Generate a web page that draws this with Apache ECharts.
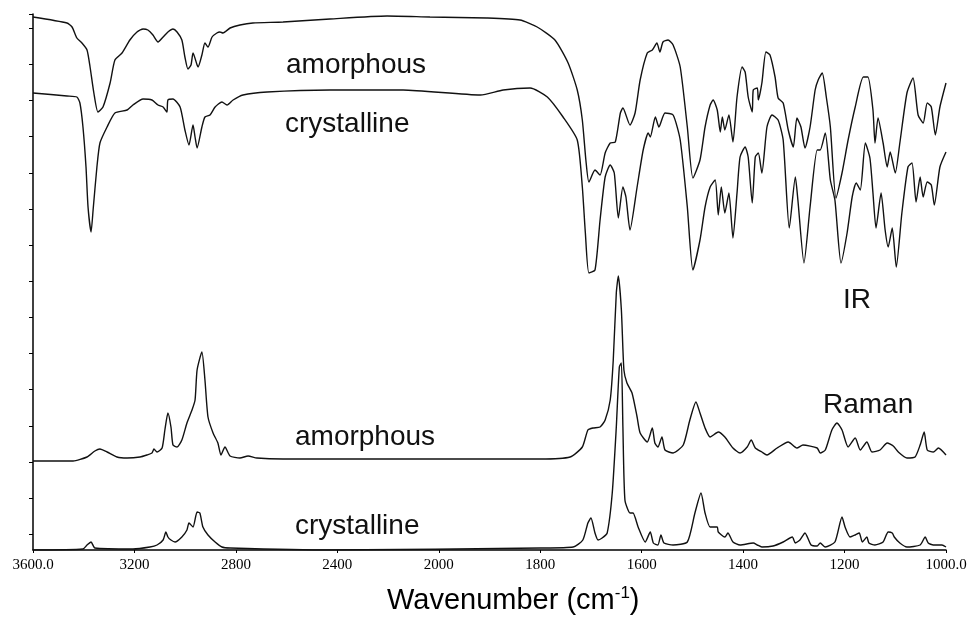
<!DOCTYPE html>
<html>
<head>
<meta charset="utf-8">
<style>html,body{margin:0;padding:0;background:#fff}#c{width:970px;height:617px}</style>
<script src="https://cdn.jsdelivr.net/npm/echarts@6/dist/echarts.min.js"></script>
</head>
<body>
<div id="c"></div>
<script>
// Wavenumber axis ticks (scale changes at 2000 cm-1)
const xTickValues = [3600, 3200, 2800, 2400, 2000, 1800, 1600, 1400, 1200, 1000];
const xTickLabels = ['3600.0', '3200', '2800', '2400', '2000', '1800', '1600', '1400', '1200', '1000.0'];
const yTickValues = [16, 52, 88, 124, 161, 197, 233, 269, 305, 341, 377, 414, 450, 486, 522, 536];

// [wavenumber, intensity (arbitrary, stacked offsets)]
const irAmorphous = [[3600,533],[3466,527],[3446,523],[3427,512],[3407,507],[3387,500],[3375,483],[3360,457],[3344,438],[3324,443],[3296,467],[3277,490],[3249,497],[3218,510],[3190,518],[3166,521],[3147,520],[3127,515],[3107,508],[3087,513],[3068,518],[3048,521],[3032,518],[3013,510],[3001,493],[2989,481],[2977,485],[2969,497],[2953,485],[2949,483],[2934,495],[2922,507],[2910,503],[2894,513],[2875,517],[2863,518],[2851,517],[2823,522],[2784,525],[2733,527],[2614,528],[2429,531],[2204,534],[2035,533],[1905,532],[1840,530],[1806,523],[1771,510],[1745,487],[1727,460],[1717,430],[1710,390],[1704,368],[1692,380],[1682,375],[1672,397],[1662,407],[1652,408],[1642,437],[1637,442],[1623,425],[1613,437],[1603,470],[1589,497],[1579,500],[1570,507],[1564,498],[1558,508],[1548,510],[1538,505],[1524,483],[1510,423],[1499,372],[1485,390],[1475,423],[1465,445],[1459,450],[1451,440],[1445,418],[1441,433],[1436,420],[1428,435],[1420,408],[1412,453],[1402,483],[1396,478],[1390,453],[1382,438],[1380,460],[1372,462],[1370,450],[1363,467],[1355,498],[1347,495],[1337,473],[1331,452],[1321,447],[1311,420],[1301,403],[1294,432],[1286,423],[1278,402],[1268,423],[1258,460],[1252,470],[1244,477],[1236,453],[1228,423],[1217,352],[1205,377],[1193,410],[1179,443],[1163,473],[1154,473],[1144,440],[1140,407],[1134,432],[1124,407],[1116,383],[1110,398],[1100,377],[1091,407],[1077,457],[1065,472],[1055,435],[1045,427],[1037,447],[1029,443],[1021,415],[1012,443],[1000,467]];

const irCrystalline = [[3600,457],[3466,454],[3427,453],[3415,447],[3403,423],[3391,383],[3383,343],[3371,318],[3363,340],[3348,383],[3336,407],[3308,423],[3277,437],[3229,440],[3206,445],[3166,451],[3131,450],[3107,445],[3087,443],[3072,438],[3068,450],[3048,451],[3020,443],[3001,420],[2985,405],[2969,425],[2961,413],[2953,402],[2934,423],[2922,433],[2902,435],[2882,443],[2855,448],[2835,445],[2811,450],[2772,455],[2677,458],[2429,460],[2141,460],[1918,455],[1873,460],[1820,462],[1786,453],[1755,433],[1727,410],[1717,363],[1711,317],[1704,277],[1692,280],[1682,330],[1672,373],[1662,385],[1654,377],[1646,332],[1637,363],[1631,353],[1623,320],[1609,363],[1597,400],[1587,417],[1583,413],[1573,433],[1566,423],[1554,437],[1538,435],[1524,410],[1510,343],[1499,280],[1485,310],[1475,343],[1465,363],[1455,370],[1449,335],[1443,363],[1436,337],[1428,357],[1420,312],[1412,357],[1406,393],[1396,403],[1390,393],[1382,347],[1376,393],[1370,397],[1363,377],[1353,423],[1343,435],[1331,430],[1321,410],[1309,322],[1297,373],[1292,350],[1280,287],[1268,343],[1254,400],[1248,400],[1238,417],[1228,370],[1219,350],[1207,287],[1195,317],[1185,353],[1177,367],[1169,360],[1159,407],[1150,392],[1144,357],[1138,322],[1128,357],[1120,320],[1114,303],[1106,322],[1098,283],[1087,337],[1075,383],[1067,387],[1059,348],[1051,373],[1045,353],[1037,368],[1029,365],[1023,345],[1012,383],[1000,398]];

const ramanAmorphous = [[3600,89],[3442,89],[3387,93],[3356,99],[3336,101],[3308,98],[3269,93],[3229,92],[3178,93],[3151,95],[3131,97],[3123,101],[3111,98],[3091,102],[3080,120],[3068,137],[3056,123],[3048,105],[3032,103],[3013,110],[2993,127],[2973,140],[2961,150],[2953,180],[2934,198],[2922,170],[2910,133],[2890,117],[2871,107],[2859,95],[2843,103],[2823,94],[2784,92],[2752,94],[2717,92],[2614,91],[2429,91],[1800,91],[1741,93],[1717,103],[1706,120],[1696,122],[1682,123],[1672,130],[1662,150],[1656,190],[1650,257],[1646,274],[1640,240],[1635,180],[1629,167],[1619,157],[1609,133],[1603,117],[1589,108],[1579,122],[1574,107],[1568,103],[1560,113],[1554,100],[1538,97],[1518,105],[1505,130],[1493,148],[1485,137],[1475,122],[1465,113],[1449,118],[1436,113],[1420,102],[1406,97],[1392,103],[1384,110],[1376,102],[1363,98],[1353,95],[1333,102],[1311,108],[1294,102],[1282,105],[1254,102],[1248,97],[1238,100],[1225,120],[1215,127],[1205,120],[1193,103],[1179,112],[1169,100],[1156,108],[1146,98],[1130,100],[1116,107],[1104,104],[1094,98],[1077,92],[1061,93],[1051,105],[1043,118],[1037,100],[1025,98],[1015,102],[1000,95]];

const ramanCrystalline = [[3600,0],[3403,1],[3387,5],[3371,8],[3356,2],[3206,1],[3139,3],[3111,5],[3087,10],[3076,18],[3068,13],[3056,10],[3040,8],[3013,13],[2993,20],[2985,27],[2969,23],[2953,38],[2942,37],[2930,23],[2910,15],[2882,8],[2855,3],[2823,2],[2429,0],[1800,2],[1735,3],[1716,10],[1706,27],[1700,32],[1692,17],[1686,10],[1678,12],[1668,17],[1658,57],[1650,123],[1644,183],[1640,187],[1637,123],[1633,50],[1623,37],[1617,37],[1607,23],[1593,8],[1583,18],[1577,7],[1568,5],[1562,15],[1556,7],[1538,5],[1510,8],[1495,37],[1483,57],[1475,37],[1465,23],[1451,23],[1449,18],[1436,13],[1430,17],[1420,8],[1406,5],[1380,7],[1372,5],[1363,3],[1341,4],[1321,8],[1303,13],[1297,7],[1288,10],[1278,17],[1266,5],[1254,4],[1248,7],[1238,3],[1219,8],[1205,33],[1199,23],[1189,13],[1179,15],[1171,17],[1165,8],[1156,13],[1152,7],[1140,5],[1124,8],[1114,18],[1106,17],[1102,13],[1091,7],[1077,3],[1051,5],[1041,13],[1035,7],[1025,5],[1008,5],[1000,3]];

// Piecewise wavenumber scale: 400 cm-1 per division above 2000, 200 cm-1 per division below
function toAxis(w) { return w >= 2000 ? (3600 - w) / 400 : 4 + (2000 - w) / 200; }
const xAxisTicks = xTickValues.map(toAxis);

const chart = echarts.init(document.getElementById('c'), null, {renderer: 'canvas'});
const lineSeries = (name, data) => ({
  name, type: 'line', data: data.map(p => [toAxis(p[0]), p[1]]),
  showSymbol: false, smooth: 0.2, silent: true,
  lineStyle: {color: '#111', width: 1.4}
});
const labelFont = {fontFamily: 'Liberation Sans', fontSize: 28, fill: '#111', textVerticalAlign: 'middle'};

chart.setOption({
  animation: false,
  backgroundColor: '#fff',
  grid: {left: 33, right: 24, top: 14, bottom: 67, outerBoundsMode: 'none'},
  xAxis: {
    type: 'value', min: 0, max: 9, interval: 1,
    axisLine: {show: true, lineStyle: {color: '#000', width: 1.5}},
    axisTick: {show: true, inside: false, length: 3, lineStyle: {color: '#000'}},
    axisLabel: {
      show: true, margin: 8, color: '#000', fontFamily: 'Liberation Serif', fontSize: 15,
      formatter: v => { const i = xAxisTicks.indexOf(v); return i >= 0 ? xTickLabels[i] : ''; }
    },
    splitLine: {show: false}
  },
  yAxis: {
    type: 'value', min: 0, max: 536,
    axisLine: {show: true, lineStyle: {color: '#000', width: 1.5}},
    axisTick: {show: true, inside: false, length: 4, customValues: yTickValues, lineStyle: {color: '#000'}},
    axisLabel: {show: false},
    splitLine: {show: false}
  },
  series: [
    lineSeries('IR amorphous', irAmorphous),
    lineSeries('IR crystalline', irCrystalline),
    lineSeries('Raman amorphous', ramanAmorphous),
    lineSeries('Raman crystalline', ramanCrystalline)
  ],
  graphic: [
    {type: 'text', x: 286, y: 65, style: Object.assign({text: 'amorphous'}, labelFont)},
    {type: 'text', x: 285, y: 124, style: Object.assign({text: 'crystalline'}, labelFont)},
    {type: 'text', x: 843, y: 300, style: Object.assign({text: 'IR'}, labelFont)},
    {type: 'text', x: 823, y: 405, style: Object.assign({text: 'Raman'}, labelFont)},
    {type: 'text', x: 295, y: 437, style: Object.assign({text: 'amorphous'}, labelFont)},
    {type: 'text', x: 295, y: 526, style: Object.assign({text: 'crystalline'}, labelFont)},
    {type: 'text', x: 387, y: 601, style: {
      text: '{a|Wavenumber (cm}{s|-1}{a|)}', textVerticalAlign: 'middle',
      rich: {
        a: {fontFamily: 'Liberation Sans', fontSize: 29, color: '#111', lineHeight: 32, verticalAlign: 'middle'},
        s: {fontFamily: 'Liberation Sans', fontSize: 17, color: '#111', lineHeight: 32, verticalAlign: 'top', padding: [0, 0, 0, 0]}
      }
    }}
  ]
});
</script>
</body>
</html>
